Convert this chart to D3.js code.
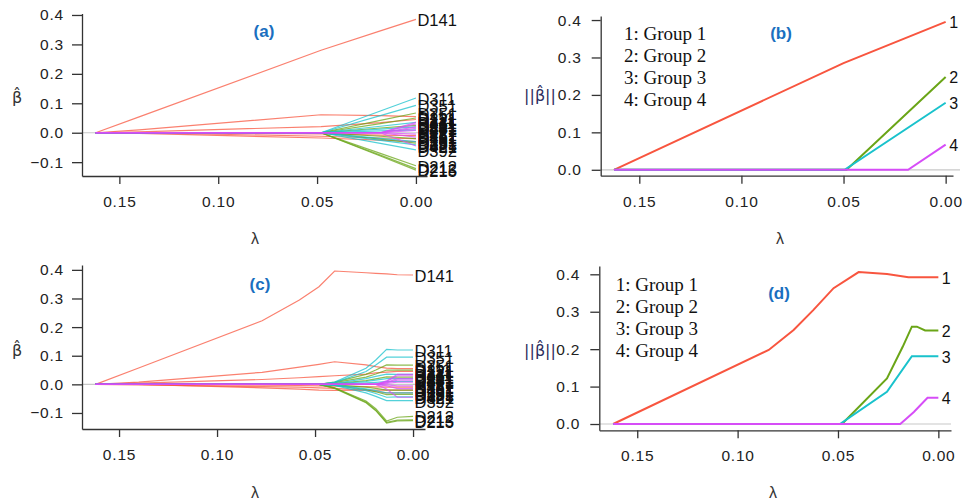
<!DOCTYPE html>
<html lang="en">
<head>
  <meta charset="UTF-8">
  <title>Solution paths</title>
  <style>
    body, html { margin: 0; padding: 0; background: #fff; }
    svg { display: block; }
  </style>
</head>
<body>
  <svg id="svg" width="963" height="498"></svg>
  <script src="https://d3js.org/d3.v7.min.js"></script>
  <script>
    // group colours (1..4)
    const groupColors = ['#f8553f', '#6aa517', '#19c2cc', '#d64df7']

    // variables and their group (0-based)
    const varNames = [
      'D141', 'D111', 'D121', 'D131', 'D151', 'D161',
      'D212', 'D213', 'D215', 'D251', 'D221', 'D231', 'D241', 'D261',
      'D311', 'D351', 'D392', 'D321', 'D331', 'D341', 'D361', 'D371',
      'D411', 'D421', 'D431', 'D441', 'D451', 'D461', 'D471', 'D481'
    ]
    const varGroups = [
      0, 0, 0, 0, 0, 0,
      1, 1, 1, 1, 1, 1, 1, 1,
      2, 2, 2, 2, 2, 2, 2, 2,
      3, 3, 3, 3, 3, 3, 3, 3
    ]

    // panel (a): coefficients at lambda knots
    const lambdaA = [0.162, 0.14, 0.048, 0.018, 0]
    const coefA = [
      [0, 0.054, 0.280, 0.346, 0.385],
      [0, 0.010, 0.061, 0.058, 0.055],
      [0, 0.003, 0.021, 0.034, 0.045],
      [0, 0.000, -0.012, -0.018, -0.020],
      [0, -0.002, -0.018, -0.025, -0.030],
      [0, 0.000, -0.004, -0.008, -0.010],
      [0, 0, 0, -0.070, -0.112],
      [0, 0, 0, -0.076, -0.122],
      [0, 0, 0, -0.079, -0.127],
      [0, 0, 0, 0.042, 0.067],
      [0, 0, 0, 0.031, 0.050],
      [0, 0, 0, -0.022, -0.035],
      [0, 0, 0, 0.016, 0.025],
      [0, 0, 0, -0.012, -0.020],
      [0, 0, 0, 0.074, 0.118],
      [0, 0, 0, 0.058, 0.093],
      [0, 0, 0, -0.036, -0.058],
      [0, 0, 0, -0.026, -0.041],
      [0, 0, 0, 0.022, 0.035],
      [0, 0, 0, 0.012, 0.020],
      [0, 0, 0, -0.019, -0.030],
      [0, 0, 0, 0.006, 0.010],
      [0, 0, 0, 0, 0.035],
      [0, 0, 0, 0, -0.045],
      [0, 0, 0, 0, 0.020],
      [0, 0, 0, 0, 0.015],
      [0, 0, 0, 0, -0.015],
      [0, 0, 0, 0, 0.030],
      [0, 0, 0, 0, 0.008],
      [0, 0, 0, 0, -0.005]
    ]

    // panel (c): coefficients at lambda knots
    const lambdaC = [0.162, 0.14, 0.077, 0.058, 0.048, 0.040, 0.024, 0.019, 0.0135, 0.008, 0]
    const coefC = [
      [0, 0.057, 0.222, 0.295, 0.341, 0.396, 0.390, 0.388, 0.386, 0.383, 0.382],
      [0, 0.008, 0.042, 0.060, 0.070, 0.079, 0.068, 0.062, 0.057, 0.055, 0.055],
      [0, 0.004, 0.017, 0.023, 0.027, 0.030, 0.036, 0.040, 0.043, 0.045, 0.045],
      [0, 0.000, -0.012, -0.017, -0.020, -0.021, -0.020, -0.020, -0.020, -0.020, -0.020],
      [0, -0.002, -0.008, -0.010, -0.012, -0.014, -0.020, -0.025, -0.030, -0.030, -0.030],
      [0, 0.000, -0.003, -0.004, -0.005, -0.006, -0.008, -0.009, -0.010, -0.010, -0.010],
      [0, 0, 0, 0, 0, -0.012, -0.058, -0.085, -0.128, -0.115, -0.112],
      [0, 0, 0, 0, 0, -0.013, -0.062, -0.090, -0.133, -0.125, -0.124],
      [0, 0, 0, 0, 0, -0.014, -0.064, -0.092, -0.135, -0.128, -0.127],
      [0, 0, 0, 0, 0, 0.008, 0.035, 0.050, 0.068, 0.067, 0.067],
      [0, 0, 0, 0, 0, 0.006, 0.025, 0.036, 0.050, 0.050, 0.050],
      [0, 0, 0, 0, 0, -0.004, -0.018, -0.026, -0.036, -0.035, -0.035],
      [0, 0, 0, 0, 0, 0.003, 0.013, 0.019, 0.026, 0.025, 0.025],
      [0, 0, 0, 0, 0, -0.002, -0.010, -0.014, -0.020, -0.020, -0.020],
      [0, 0, 0, 0, 0, 0.008, 0.056, 0.085, 0.122, 0.120, 0.120],
      [0, 0, 0, 0, 0, 0.006, 0.045, 0.068, 0.095, 0.095, 0.095],
      [0, 0, 0, 0, 0, -0.004, -0.030, -0.042, -0.057, -0.057, -0.057],
      [0, 0, 0, 0, 0, -0.003, -0.022, -0.032, -0.045, -0.044, -0.044],
      [0, 0, 0, 0, 0, 0.003, 0.020, 0.028, 0.036, 0.035, 0.035],
      [0, 0, 0, 0, 0, 0.002, 0.010, 0.015, 0.020, 0.020, 0.020],
      [0, 0, 0, 0, 0, -0.002, -0.016, -0.022, -0.030, -0.030, -0.030],
      [0, 0, 0, 0, 0, 0.001, 0.005, 0.007, 0.010, 0.010, 0.010],
      [0, 0, 0, 0, 0, 0, 0, 0, 0.012, 0.035, 0.035],
      [0, 0, 0, 0, 0, 0, 0, 0, -0.016, -0.045, -0.045],
      [0, 0, 0, 0, 0, 0, 0, 0, 0.007, 0.020, 0.020],
      [0, 0, 0, 0, 0, 0, 0, 0, 0.005, 0.015, 0.015],
      [0, 0, 0, 0, 0, 0, 0, 0, -0.005, -0.015, -0.015],
      [0, 0, 0, 0, 0, 0, 0, 0, 0.010, 0.030, 0.030],
      [0, 0, 0, 0, 0, 0, 0, 0, 0.003, 0.008, 0.008],
      [0, 0, 0, 0, 0, 0, 0, 0, -0.002, -0.005, -0.005]
    ]

    // panel (b): group norms
    const normLambdaB = [
      [0.1624, 0.05, 0],
      [0.1624, 0.0485, 0],
      [0.1624, 0.0495, 0],
      [0.1624, 0.0184, 0]
    ]
    const normB = [
      [0, 0.285, 0.395],
      [0, 0, 0.248],
      [0, 0, 0.179],
      [0, 0, 0.067]
    ]

    // panel (d): group norms
    const normLambdaD = [
      [0.162, 0.0845, 0.0721, 0.0622, 0.0522, 0.0397, 0.0256, 0.0149, 0],
      [0.162, 0.048, 0.0256, 0.0177, 0.0132, 0.0107, 0.0066, 0],
      [0.162, 0.049, 0.0256, 0.0132, 0],
      [0.162, 0.019, 0.0164, 0.0122, 0.0054, 0]
    ]
    const normD = [
      [0, 0.198, 0.251, 0.305, 0.363, 0.406, 0.401, 0.392, 0.392],
      [0, 0, 0.122, 0.207, 0.260, 0.260, 0.250, 0.250],
      [0, 0, 0.086, 0.181, 0.181],
      [0, 0, 0.012, 0.032, 0.070, 0.070]
    ]

    const xTicks = [0.15, 0.10, 0.05, 0.00]
    const yTicksCoef = [-0.1, 0.0, 0.1, 0.2, 0.3, 0.4]
    const yTicksNorm = [0.0, 0.1, 0.2, 0.3, 0.4]
    const legendLabels = ['1: Group 1', '2: Group 2', '3: Group 3', '4: Group 4']
    const groupLabels = ['1', '2', '3', '4']

    const svg = d3.select('#svg')
    const sans = '"Liberation Sans", Arial, sans-serif'

    const panels = [
      { title: '(a)', kind: 'coef', lambdas: lambdaA, values: coefA,
        xd: [0.1689, -0.0056], xr: [82, 427], yd: [-0.147, 0.405], yr: [176, 13.5],
        yTicks: yTicksCoef, tick: 10, pad: 8, zeroEnd: 427,
        tx: 264, ty: 31, ylab: [17, 97], lam: [255, 238] },
      { title: '(b)', kind: 'norm', lambdas: normLambdaB, values: normB,
        xd: [0.1689, -0.0036], xr: [600.7, 953], yd: [-0.0158, 0.4108], yr: [175.7, 16],
        yTicks: yTicksNorm, tick: 9, pad: 10, zeroEnd: 960,
        tx: 781, ty: 33, ylab: [540, 95], lam: [780, 238], legend: [624, 33.3] },
      { title: '(c)', kind: 'coef', lambdas: lambdaC, values: coefC,
        xd: [0.1689, -0.0061], xr: [82, 425], yd: [-0.156, 0.417], yr: [429, 265],
        yTicks: yTicksCoef, tick: 10, pad: 8, zeroEnd: 425,
        tx: 260, ty: 284, ylab: [17, 350], lam: [255, 492] },
      { title: '(d)', kind: 'norm', lambdas: normLambdaD, values: normD,
        xd: [0.1689, -0.0063], xr: [599.3, 951], yd: [-0.0168, 0.4222], yr: [430.3, 266],
        yTicks: yTicksNorm, tick: 9, pad: 10, zeroEnd: 951,
        tx: 779, ty: 293, ylab: [540, 350], lam: [773, 492], legend: [615.7, 284.3] }
    ]

    panels.forEach(p => {
      const x = d3.scaleLinear().domain(p.xd).range(p.xr)
      const y = d3.scaleLinear().domain(p.yd).range(p.yr)
      const g = svg.append('g')

      // light zero line
      g.append('line')
        .attr('x1', p.xr[0]).attr('x2', p.zeroEnd)
        .attr('y1', y(0)).attr('y2', y(0))
        .attr('stroke', '#c8c8c8').attr('stroke-width', 1.2)

      const line = d3.line().x(d => x(d[0])).y(d => y(d[1]))

      if (p.kind === 'coef') {
        p.values.forEach((vals, i) => {
          const pts = p.lambdas.map((l, k) => [l, vals[k]])
          g.append('path')
            .attr('d', line(pts))
            .attr('fill', 'none')
            .attr('stroke', groupColors[varGroups[i]])
            .attr('stroke-opacity', 0.75)
            .attr('stroke-width', 1.2)
        })
        p.values.forEach((vals, i) => {
          g.append('text')
            .attr('x', x(0) + 1.5)
            .attr('y', y(vals[vals.length - 1]) + 1)
            .attr('dominant-baseline', 'central')
            .attr('font-family', sans)
            .attr('font-size', 16.5)
            .attr('fill', '#111')
            .text(varNames[i])
        })
      } else {
        p.values.forEach((vals, gi) => {
          const pts = p.lambdas[gi].map((l, k) => [l, vals[k]])
          g.append('path')
            .attr('d', line(pts))
            .attr('fill', 'none')
            .attr('stroke', groupColors[gi])
            .attr('stroke-width', 2)
          g.append('text')
            .attr('x', x(0) + 3.5)
            .attr('y', y(vals[vals.length - 1]) + 1)
            .attr('dominant-baseline', 'central')
            .attr('font-family', sans)
            .attr('font-size', 16)
            .attr('fill', '#111')
            .text(groupLabels[gi])
        })
        // legend
        legendLabels.forEach((t, i) => {
          g.append('text')
            .attr('x', p.legend[0])
            .attr('y', p.legend[1] + i * 21.9)
            .attr('dominant-baseline', 'central')
            .attr('font-family', '"Liberation Serif", "DejaVu Serif", serif')
            .attr('font-size', 19)
            .attr('fill', '#111')
            .text(t)
        })
      }

      // axes
      const xAxis = d3.axisBottom(x).tickValues(xTicks).tickFormat(d3.format('.2f'))
        .tickSize(8).tickSizeOuter(0).tickPadding(12)
      const yAxis = d3.axisLeft(y).tickValues(p.yTicks).tickFormat(d3.format('.1f'))
        .tickSize(p.tick).tickSizeOuter(0).tickPadding(p.pad)

      const gx = g.append('g').attr('transform', `translate(0,${p.yr[0]})`).call(xAxis)
      const gy = g.append('g').attr('transform', `translate(${p.xr[0]},0)`).call(yAxis)
      ;[gx, gy].forEach(a => {
        a.selectAll('path, line').attr('stroke', '#333').attr('stroke-width', 1.3)
        a.selectAll('text')
          .attr('font-family', sans)
          .attr('font-size', 15.5)
          .attr('letter-spacing', 0.8)
          .attr('fill', '#222')
      })

      // title
      g.append('text')
        .attr('x', p.tx).attr('y', p.ty)
        .attr('text-anchor', 'middle')
        .attr('dominant-baseline', 'central')
        .attr('font-family', sans)
        .attr('font-weight', 'bold')
        .attr('font-size', 17)
        .attr('fill', '#1a6fc0')
        .text(p.title)

      // axis titles
      g.append('text')
        .attr('x', p.ylab[0]).attr('y', p.ylab[1])
        .attr('text-anchor', 'middle')
        .attr('dominant-baseline', 'central')
        .attr('font-family', '"DejaVu Sans", sans-serif')
        .attr('font-size', 16)
        .attr('fill', p.kind === 'coef' ? '#333' : '#2d2d5e')
        .text(p.kind === 'coef' ? 'β\u0302' : '||β\u0302||')

      g.append('text')
        .attr('x', p.lam[0]).attr('y', p.lam[1])
        .attr('text-anchor', 'middle')
        .attr('dominant-baseline', 'central')
        .attr('font-family', sans)
        .attr('font-size', 16)
        .attr('fill', '#333')
        .text('λ')
    })
  </script>
</body>
</html>
